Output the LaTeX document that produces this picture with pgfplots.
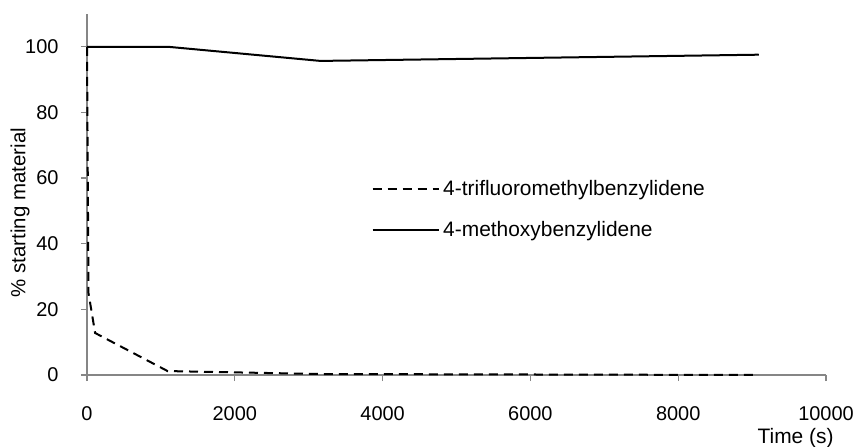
\documentclass[border=0pt]{standalone}
\usepackage{pgfplots}
\pgfplotsset{compat=1.18}
\usepackage{fontspec}
\setmainfont{Liberation Sans}
\definecolor{axgray}{RGB}{134,134,134}
\newcommand{\fs}{\fontsize{20}{23}\selectfont}
\newcommand{\fl}{\fontsize{21}{24}\selectfont}
\begin{document}
\begin{tikzpicture}
\useasboundingbox (0,0) rectangle (860bp,447bp);
\begin{axis}[
  at={(87bp,72bp)}, anchor=south west,
  scale only axis, width=739bp, height=361bp,
  xmin=0, xmax=10000, ymin=0, ymax=110,
  xtick={0,2000,...,10000}, ytick={0,20,...,100},
  axis lines=left,
  axis line style={axgray, line width=1.2bp, -},
  tick style={axgray, line width=1.2bp},
  tick align=outside, major tick length=6bp,
  minor tick num=0,
  scaled x ticks=false,
  /pgf/number format/assume math mode=true,
  /pgf/number format/1000 sep={},
  font=\fs,
  ticklabel style={font=\fs},
  xticklabel style={yshift=-22bp},
  yticklabel style={xshift=-19bp},
  ylabel={\% starting material},
  ylabel style={at={(axis description cs:-0.0907,0.45)}, anchor=center, font=\fontsize{20.5}{24}\selectfont},
  xlabel={Time (s)},
  xlabel style={at={(axis description cs:1.015,-0.175)}, anchor=east, font=\fl},
  legend style={draw=none, fill=none, at={(axis description cs:0.381,0.55)}, anchor=north west,
    font=\fl, row sep=20bp, nodes={inner xsep=3.5bp}},
  legend cell align=left,
  legend image code/.code={\draw[#1] (0bp,0bp) -- (66bp,0bp);},
  clip=false,
]
\addplot[black, line width=2bp, dash pattern=on 9bp off 6bp] coordinates {
  (0,100) (20,25) (110,12.8) (1090,1.2) (3150,0.3) (9090,0)
};
\addlegendentry{4-trifluoromethylbenzylidene}
\addplot[black, line width=2bp] coordinates {
  (0,100) (1100,100) (3160,95.7) (9090,97.6)
};
\addlegendentry{4-methoxybenzylidene}
\end{axis}
\end{tikzpicture}
\end{document}
